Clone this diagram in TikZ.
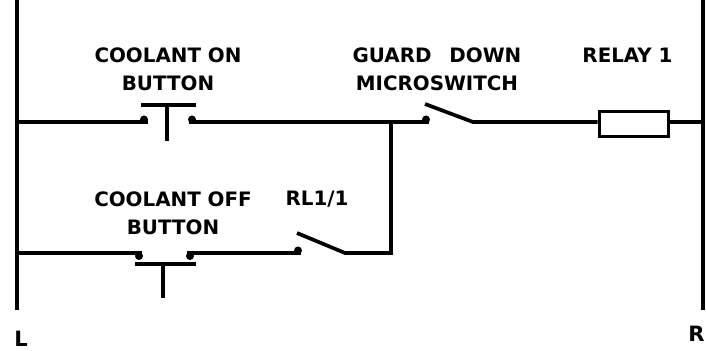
\documentclass[tikz,border=0pt]{standalone}
\usepackage{fontspec}
\setmainfont{DejaVu Sans}
\usetikzlibrary{positioning}
\tikzset{
    wire/.style={line width=2.1pt},
    rail/.style={line width=2.5pt},
    contact/.style={circle, fill=black, inner sep=0pt, minimum size=0.16cm},
    lbl/.style={font=\fontsize{11.3}{16}\selectfont\bfseries, align=center, inner sep=0pt},
    endname/.style={inner sep=0pt, font=\fontsize{12}{14}\selectfont\bfseries}
}

\begin{document}
\begin{tikzpicture}
        \useasboundingbox (0,0) rectangle (14.12,7.02);

        % rails
        \coordinate (ltop) at (0.34,7.02);
        \coordinate (lbot) at (0.34,0.82);
        \coordinate (rtop) at (14.06,7.02);
        \coordinate (rbot) at (14.06,0.82);
        \draw[rail] (ltop) -- (lbot);
        \draw[rail] (rtop) -- (rbot);
        \node (lname) [endname] at (0.42,0.24) {L};
        \node (rname) [endname, anchor=east] at (14.1,0.34) {R};

        % top rung
        \coordinate (topl) at (0.34,4.58);
        \coordinate (topr) at (14.06,4.58);
        \coordinate (onl) at (2.96,4.58);
        \coordinate (onr) at (3.78,4.58);
        \coordinate (join) at (7.82,4.58);
        \coordinate (guardl) at (8.58,4.58);
        \coordinate (guardr) at (9.46,4.58);
        \coordinate (guardtip) at (8.5,4.94);
        \node (relay) [draw, line width=2.1pt, minimum width=1.38cm, minimum height=0.5cm, inner sep=0pt] at (12.68,4.54) {};
        \node (ondotl) [contact] at (2.88,4.63) {};
        \node (ondotr) [contact] at (3.84,4.63) {};
        \node (guarddot) [contact] at (8.52,4.63) {};

        \draw[wire] (topl) -- (onl);
        \draw[wire] (onr) -- (guardl);
        \draw[wire] (guardtip) -- (guardr) -- (relay.west |- guardr);
        \draw[wire] (relay.east |- topr) -- (topr);

        % on button
        \coordinate (onbarl) at (2.82,4.92);
        \coordinate (onbarr) at (3.92,4.92);
        \coordinate (onbarm) at (3.34,4.92);
        \coordinate (onstem) at (3.34,4.2);
        \draw[wire] (onbarl) -- (onbarr);
        \draw[wire] (onbarm) -- (onstem);

        % bottom rung
        \coordinate (botl) at (0.34,1.96);
        \coordinate (offl) at (2.84,1.96);
        \coordinate (offr) at (3.74,1.96);
        \coordinate (rll) at (6.02,1.96);
        \coordinate (rlr) at (6.9,1.96);
        \coordinate (rltip) at (5.94,2.36);
        \coordinate (joinb) at (7.82,1.96);
        \node (offdotl) [contact] at (2.78,1.9) {};
        \node (offdotr) [contact] at (3.8,1.9) {};
        \node (rldot) [contact] at (5.96,2.01) {};

        \draw[wire] (botl) -- (offl);
        \draw[wire] (offr) -- (rll);
        \draw[wire] (rltip) -- (rlr) -- (joinb) -- (join);

        % off button
        \coordinate (offbarl) at (2.7,1.74);
        \coordinate (offbarr) at (3.92,1.74);
        \coordinate (offbarm) at (3.26,1.74);
        \coordinate (offstem) at (3.26,1.06);
        \draw[wire] (offbarl) -- (offbarr);
        \draw[wire] (offbarm) -- (offstem);

        % labels
        \node (onname) [lbl] at (3.36,5.64) {COOLANT ON\\BUTTON};
        \node (guardname) [lbl] at (8.74,5.64) {GUARD\hspace{0.9em}DOWN\\MICROSWITCH};
        \node (relayname) [lbl] at (12.55,5.92) {RELAY 1};
        \node (offname) [lbl] at (3.46,2.76) {COOLANT OFF\\BUTTON};
        \node (rlname) [lbl] at (6.34,3.04) {RL1/1};
\end{tikzpicture}
\end{document}
